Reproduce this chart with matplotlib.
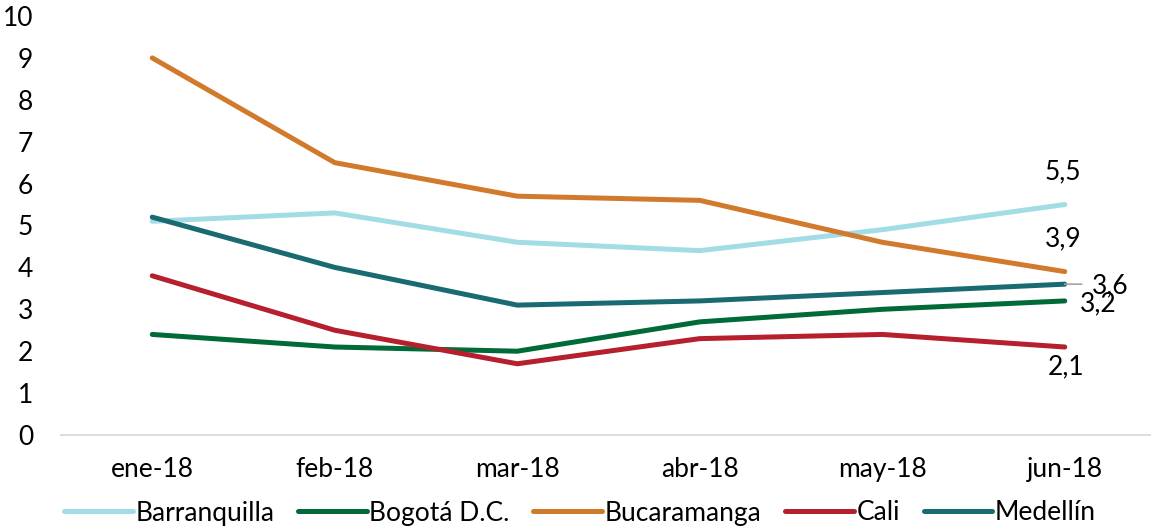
import numpy as np
import matplotlib
matplotlib.use("Agg")
import matplotlib.pyplot as plt

plt.rcParams['font.family'] = ['Lato', 'DejaVu Sans']

months = ["ene-18", "feb-18", "mar-18", "abr-18", "may-18", "jun-18"]

barranquilla = [5.1, 5.3, 4.6, 4.4, 4.9, 5.5]
bogota = [2.4, 2.1, 2.0, 2.7, 3.0, 3.2]
bucaramanga = [9.0, 6.5, 5.7, 5.6, 4.6, 3.9]
cali = [3.8, 2.5, 1.7, 2.3, 2.4, 2.1]
medellin = [5.2, 4.0, 3.1, 3.2, 3.4, 3.6]

names = ["Barranquilla", "Bogotá D.C.", "Bucaramanga", "Cali", "Medellín"]
colors = ["#a2dce5", "#006a38", "#d17a2b", "#b51f2e", "#196a71"]

fig = plt.figure(figsize=(11.51, 5.29), dpi=100)
ax = fig.add_axes([61/1151, 1 - 435/529, 1095/1151, 419/529])

x = np.arange(len(months))
series = [barranquilla, bogota, bucaramanga, cali, medellin]
for name, vals, c in zip(names, series, colors):
    ax.plot(x, vals, color=c, lw=3.6, solid_capstyle='round',
            solid_joinstyle='round', label=name)

# data labels on jun-18 (offsets in pixels)
offs = {0: (-2, 33), 2: (-2, 33), 4: (45, -2), 1: (34, -3), 3: (1, -20)}
for i in [0, 2, 4, 1, 3]:
    v = series[i][-1]
    dx, dy = offs[i]
    txt = f"{v:.1f}".replace(".", ",")
    ax.annotate(txt, (x[-1], v), xytext=(dx, dy), textcoords='offset pixels',
                ha='center', va='center', fontsize=19, color='black')

# leader line for Medellín label
ax.annotate("", (x[-1], medellin[-1]), xytext=(17, 0), textcoords='offset pixels',
            arrowprops=dict(arrowstyle='-', color='#a6a6a6', lw=1.2,
                            shrinkA=0, shrinkB=0))

ax.set_xlim(-0.5, 5.5)
ax.set_ylim(0, 10)
ax.set_yticks(range(0, 11))
ax.set_xticks(x)
ax.set_xticklabels(months)
for s in ["top", "right", "left"]:
    ax.spines[s].set_visible(False)
ax.spines["bottom"].set_color("#d9d9d9")
ax.spines["bottom"].set_linewidth(1.3)
ax.tick_params(axis='y', length=0, pad=20, labelsize=19)
ax.tick_params(axis='x', length=0, pad=16, labelsize=19)

fig.legend(loc='center', bbox_to_anchor=(580/1151, 1 - 513/529), ncol=5,
           frameon=False, fontsize=19, handlelength=2.6, handletextpad=0.1,
           columnspacing=0.9, borderaxespad=0)

fig.savefig("out.png", dpi=100)
